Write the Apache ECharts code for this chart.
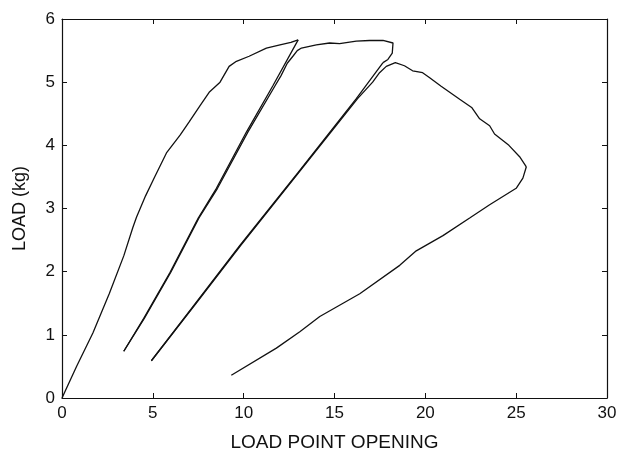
<!DOCTYPE html>
<html>
<head>
<meta charset="utf-8">
<title>Load vs load point opening</title>
<script src="https://cdn.jsdelivr.net/npm/echarts@6/dist/echarts.min.js"></script>
<style>
  html, body { margin: 0; padding: 0; background: #fff; }
  #chart { width: 620px; height: 457px; }
</style>
</head>
<body>
<div id="chart"></div>
<script>
// [load point opening, load (kg)], segment by segment
const loading1 = [
  [0, 0], [0.8, 0.5], [1.7, 1.03], [2.6, 1.65], [3.4, 2.25], [3.9, 2.7], [4.1, 2.86],
  [4.6, 3.2], [5.1, 3.5], [5.75, 3.88], [6.5, 4.16], [7.0, 4.37], [7.6, 4.63],
  [8.1, 4.84], [8.7, 5.0], [9.2, 5.25], [9.6, 5.33], [10.3, 5.41], [11.25, 5.54],
  [12.0, 5.59], [12.6, 5.63], [13.0, 5.67]
];
const unloading1 = [
  [13.0, 5.67], [11.6, 4.94], [10.15, 4.21], [8.5, 3.32], [7.5, 2.85], [5.95, 1.99],
  [4.5, 1.26], [3.4, 0.74]
];
const reloading1 = [
  [3.4, 0.74], [4.53, 1.26], [5.99, 1.99], [7.54, 2.85], [8.56, 3.32], [10.23, 4.21],
  [11.72, 4.94], [12.05, 5.1], [12.4, 5.3], [12.71, 5.41], [12.95, 5.5], [13.18, 5.54],
  [14.0, 5.59], [14.73, 5.62], [15.28, 5.61], [16.2, 5.65], [16.93, 5.66], [17.67, 5.66],
  [18.22, 5.62], [18.18, 5.46], [17.94, 5.36], [17.67, 5.31]
];
const unloading2 = [
  [17.67, 5.31], [16.2, 4.74], [13.0, 3.57], [9.78, 2.41], [7.3, 1.48], [4.92, 0.59]
];
const reloading2 = [
  [4.92, 0.59], [7.33, 1.48], [9.82, 2.41], [13.03, 3.57], [16.27, 4.74], [17.1, 5.0],
  [17.48, 5.15], [17.85, 5.25], [18.35, 5.31], [18.85, 5.26], [19.3, 5.18], [19.85, 5.15],
  [20.24, 5.07], [20.85, 4.94], [21.89, 4.73], [22.55, 4.6], [22.99, 4.42], [23.54, 4.31],
  [23.81, 4.18], [24.6, 4.0], [25.19, 3.82], [25.56, 3.66]
];
const unloading3 = [
  [25.56, 3.66], [25.37, 3.48], [25.0, 3.32], [23.54, 3.06], [22.44, 2.85], [20.97, 2.57],
  [19.5, 2.33], [18.59, 2.1], [16.39, 1.65], [14.19, 1.29], [13.09, 1.05], [11.8, 0.79],
  [9.32, 0.36]
];
const segments = [loading1, unloading1, reloading1, unloading2, reloading2, unloading3];

const xRange = { min: 0, max: 30, interval: 5 };
const yRange = { min: 0, max: 6, interval: 1 };

const FONT = "'Liberation Sans', Arial, Helvetica, sans-serif";
const INK = '#111';

const axisLine = { show: true, onZero: false, lineStyle: { color: INK, width: 1.2 } };
const axisTick = { show: true, inside: true, length: 5, lineStyle: { color: INK, width: 1 } };

const chart = echarts.init(document.getElementById('chart'), null, { renderer: 'canvas' });

chart.setOption({
  animation: false,
  backgroundColor: '#fff',
  grid: { left: 62, right: 13, top: 19, bottom: 55 },
  xAxis: [
    {
      type: 'value',
      position: 'bottom',
      ...xRange,
      name: 'LOAD POINT OPENING',
      nameLocation: 'middle',
      nameGap: 35,
      nameTextStyle: { color: INK, fontSize: 19, fontFamily: FONT },
      axisLine,
      axisTick,
      splitLine: { show: false },
      axisLabel: { color: INK, fontSize: 17, fontFamily: FONT, margin: 7 },
    },
    {
      type: 'value',
      position: 'top',
      ...xRange,
      axisLine,
      axisTick,
      splitLine: { show: false },
      axisLabel: { show: false },
    },
  ],
  yAxis: [
    {
      type: 'value',
      position: 'left',
      ...yRange,
      name: 'LOAD (kg)',
      nameLocation: 'middle',
      nameGap: 33,
      nameTextStyle: { color: INK, fontSize: 18, fontFamily: FONT },
      axisLine,
      axisTick,
      splitLine: { show: false },
      axisLabel: { color: INK, fontSize: 17, fontFamily: FONT, margin: 7 },
    },
    {
      type: 'value',
      position: 'right',
      ...yRange,
      axisLine,
      axisTick,
      splitLine: { show: false },
      axisLabel: { show: false },
    },
  ],
  series: segments.map((seg) => ({
    type: 'line',
    data: seg,
    xAxisIndex: 0,
    yAxisIndex: 0,
    showSymbol: false,
    symbol: 'none',
    smooth: false,
    lineStyle: { color: INK, width: 1.3 },
  })),
});
</script>
</body>
</html>
